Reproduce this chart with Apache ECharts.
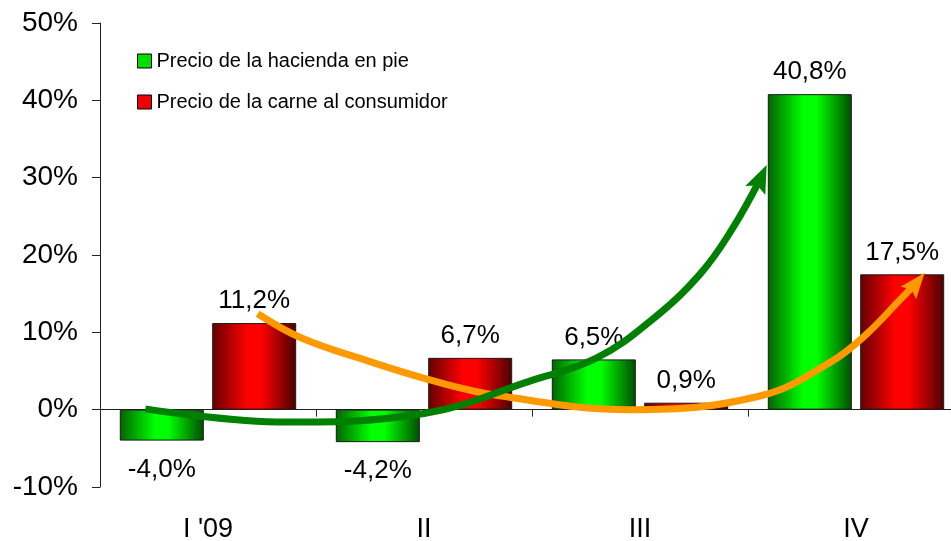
<!DOCTYPE html>
<html>
<head>
<meta charset="utf-8">
<script src="https://cdn.jsdelivr.net/npm/echarts@6/dist/echarts.min.js"></script>
<style>
  html, body { margin: 0; padding: 0; background: #fff; }
  #chart { width: 951px; height: 541px; }
</style>
</head>
<body>
<div id="chart"></div>
<script>
  const categories = ["I '09", 'II', 'III', 'IV']
  const hacienda = [-4.0, -4.2, 6.5, 40.8]
  const carne = [11.2, 6.7, 0.9, 17.5]
  const yTicks = [-10, 0, 10, 20, 30, 40, 50]
  // arrows, in category units (0..4) and percent
  const greenArrow = [[0.21, 0.1], [0.86, -1.6], [1.5, -0.5], [1.99, 3.7], [2.3, 6.7], [2.55, 11.5], [2.78, 17.6], [2.93, 23.5], [3.06, 30.0]]
  const orangeArrow = [[0.73, 12.4], [0.93, 9.3], [1.24, 6.3], [1.54, 3.75], [1.85, 1.8], [2.46, 0.0], [3.06, 1.8], [3.39, 6.3], [3.55, 9.8], [3.7, 14.1], [3.78, 16.4]]

  const font = 'Liberation Sans, Arial, sans-serif'
  const headPath = 'path://M10,0 L20,26 L10,21 L0,26 Z'

  const grad = (edgeL, mid, edgeR) => new echarts.graphic.LinearGradient(0, 0, 1, 0, [
    { offset: 0, color: edgeL },
    { offset: 0.42, color: mid },
    { offset: 0.58, color: mid },
    { offset: 1, color: edgeR }
  ])

  const fmt = (v) => v.toFixed(1).replace('.', ',') + '%'
  const barData = (arr) => arr.map((v) => ({
    value: v,
    label: { position: v < 0 ? 'bottom' : 'top', distance: v < 0 ? 16 : 9 }
  }))

  const arrowData = (pts, rot, size) => pts.map((p, i) => i === pts.length - 1
    ? { value: p, symbol: headPath, symbolSize: size, symbolRotate: rot }
    : { value: p, symbol: 'none' })

  const chart = echarts.init(document.getElementById('chart'))
  chart.setOption({
    animation: false,
    grid: { left: 100, right: -13, top: 23, bottom: 54, outerBoundsMode: 'none', containLabel: false },
    legend: {
      orient: 'vertical',
      left: 137,
      top: 50,
      padding: 0,
      itemWidth: 14,
      itemHeight: 14,
      itemGap: 19,
      textStyle: { fontFamily: font, fontSize: 20, color: '#000', lineHeight: 22 },
      data: [
        { name: 'Precio de la hacienda en pie', icon: 'rect', itemStyle: { color: '#00dd00', borderColor: '#000', borderWidth: 1 } },
        { name: 'Precio de la carne al consumidor', icon: 'rect', itemStyle: { color: '#ee0000', borderColor: '#000', borderWidth: 1 } }
      ]
    },
    xAxis: [
      {
        type: 'category',
        data: categories,
        position: 'bottom',
        axisLine: { onZero: true, lineStyle: { color: '#222', width: 1 } },
        axisTick: { show: true, length: 7, lineStyle: { color: '#222' } },
        axisLabel: { show: false }
      },
      {
        type: 'category',
        data: categories,
        position: 'bottom',
        axisLine: { show: false, onZero: false },
        axisTick: { show: false },
        axisLabel: { fontFamily: font, fontSize: 27, color: '#000', margin: 29 }
      },
      { type: 'value', min: 0, max: 4, show: false }
    ],
    yAxis: {
      type: 'value',
      min: yTicks[0],
      max: yTicks[yTicks.length - 1],
      interval: 10,
      splitLine: { show: false },
      axisLine: { show: true, lineStyle: { color: '#222' } },
      axisTick: { show: true, length: 8, lineStyle: { color: '#222' } },
      axisLabel: { fontFamily: font, fontSize: 28, color: '#000', margin: 22, padding: [4, 0, 0, 0], formatter: '{value}%' }
    },
    series: [
      {
        name: 'Precio de la hacienda en pie',
        type: 'bar',
        xAxisIndex: 0,
        data: barData(hacienda),
        barWidth: 84,
        barGap: '10%',
        itemStyle: { color: grad('#006400', '#00ff00', '#004c00'), borderColor: '#1a1a1a', borderWidth: 1 },
        label: { show: true, fontFamily: font, fontSize: 26, color: '#000', formatter: (p) => fmt(p.value) }
      },
      {
        name: 'Precio de la carne al consumidor',
        type: 'bar',
        xAxisIndex: 0,
        data: barData(carne),
        barWidth: 84,
        itemStyle: { color: grad('#640000', '#ff0000', '#4c0000'), borderColor: '#1a1a1a', borderWidth: 1 },
        label: { show: true, fontFamily: font, fontSize: 26, color: '#000', formatter: (p) => fmt(p.value) }
      },
      {
        type: 'line',
        xAxisIndex: 2,
        smooth: 0.4,
        z: 5,
        showSymbol: true,
        data: arrowData(orangeArrow, -39, [20, 26]),
        lineStyle: { color: '#ff9900', width: 7 },
        itemStyle: { color: '#ff9900' },
        silent: true
      },
      {
        type: 'line',
        xAxisIndex: 2,
        smooth: 0.4,
        z: 6,
        showSymbol: true,
        data: arrowData(greenArrow, -24, [22, 28]),
        lineStyle: { color: '#008000', width: 7 },
        itemStyle: { color: '#008000' },
        silent: true
      }
    ]
  })
</script>
</body>
</html>
